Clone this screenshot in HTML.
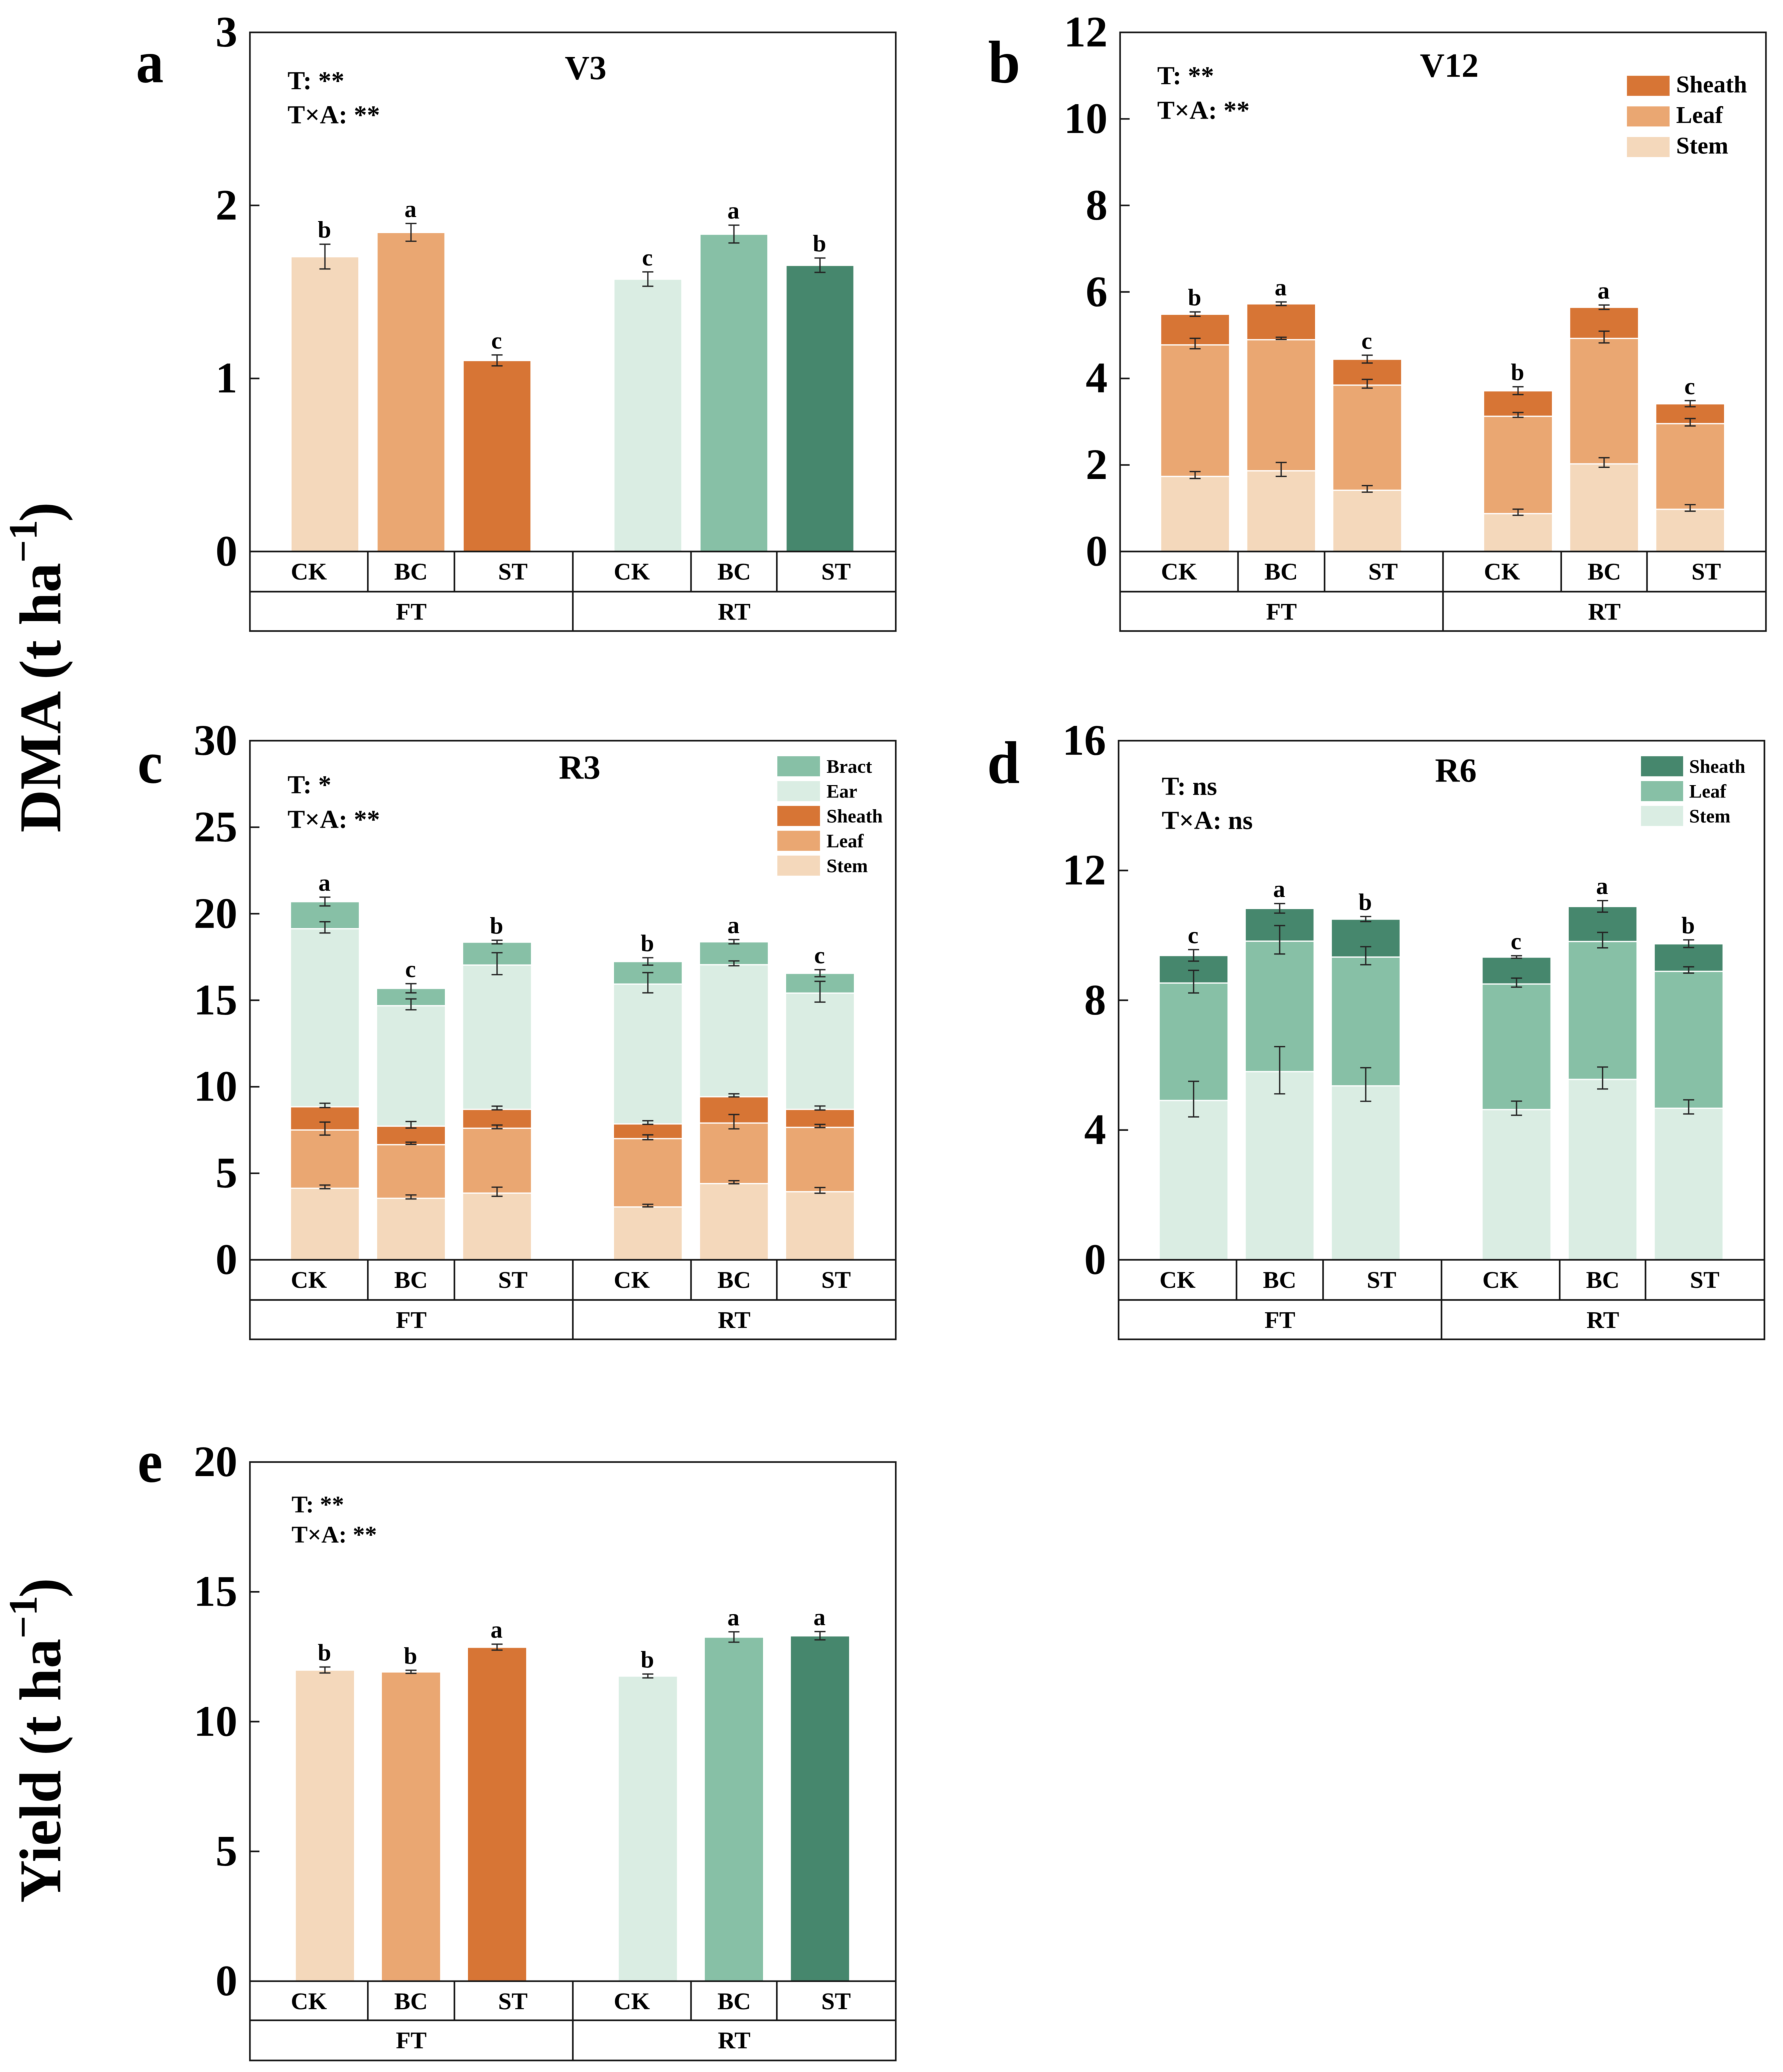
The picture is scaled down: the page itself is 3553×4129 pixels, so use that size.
<!DOCTYPE html>
<html lang="en">
<head>
<meta charset="utf-8">
<title>Dry matter accumulation and yield</title>
<style>
html,body{margin:0;padding:0;background:#fff;}
svg{display:block;filter:blur(0.7px);}
text{font-family:"Liberation Serif",serif;font-weight:bold;fill:#000;}
</style>
</head>
<body>
<svg id="figure" xmlns="http://www.w3.org/2000/svg" width="3553" height="4129" viewBox="0 0 3553 4129">
  <rect x="0" y="0" width="3553" height="4129" fill="#fff"/>

  <text transform="translate(120 1659) rotate(-90)" font-size="118">DMA (t ha<tspan font-size="80" dy="-47">−1</tspan><tspan dy="47" dx="-4">)</tspan></text>
  <text transform="translate(120 3792) rotate(-90)" font-size="118">Yield (t ha<tspan font-size="80" dy="-47">−1</tspan><tspan dy="47" dx="-4">)</tspan></text>

  <text x="271" y="164" font-size="120" textLength="55" lengthAdjust="spacingAndGlyphs">a</text>
  <text x="1969" y="164" font-size="120" textLength="64" lengthAdjust="spacingAndGlyphs">b</text>
  <text x="274" y="1560" font-size="120" textLength="50" lengthAdjust="spacingAndGlyphs">c</text>
  <text x="1967" y="1560" font-size="120" textLength="65" lengthAdjust="spacingAndGlyphs">d</text>
  <text x="274" y="2953" font-size="120" textLength="50" lengthAdjust="spacingAndGlyphs">e</text>

  <text x="1167" y="158" font-size="68" text-anchor="middle">V3</text>
  <text x="2888" y="153" font-size="68" text-anchor="middle">V12</text>
  <text x="1155" y="1552" font-size="68" text-anchor="middle">R3</text>
  <text x="2901" y="1558" font-size="68" text-anchor="middle">R6</text>

  <text x="573" y="178" font-size="52">T: **</text>
  <text x="573" y="246" font-size="52">T×A: **</text>
  <text x="2306" y="168" font-size="52">T: **</text>
  <text x="2306" y="237" font-size="52">T×A: **</text>
  <text x="573" y="1581" font-size="52">T: *</text>
  <text x="573" y="1650" font-size="52">T×A: **</text>
  <text x="2315" y="1584" font-size="52">T: ns</text>
  <text x="2315" y="1652" font-size="52">T×A: ns</text>
  <text x="581" y="3014" font-size="48">T: **</text>
  <text x="581" y="3074" font-size="48">T×A: **</text>
</svg>

<script>
// ---- shared labels ----
const categories = ['CK', 'BC', 'ST', 'CK', 'BC', 'ST'];
const groups = ['FT', 'RT'];

// ---- panel a (V3) ----
const aTicks = [0, 1, 2, 3];
const aValues = [1.70, 1.84, 1.10, 1.57, 1.83, 1.65];
const aErrors = [0.07, 0.05, 0.03, 0.04, 0.05, 0.04];
const aLetters = ['b', 'a', 'c', 'c', 'a', 'b'];

// ---- panel b (V12) ----
const bTicks = [0, 2, 4, 6, 8, 10, 12];
const bStem = [1.75, 1.88, 1.43, 0.89, 2.04, 0.99];
const bLeaf = [3.04, 3.03, 2.43, 2.25, 2.90, 1.98];
const bSheath = [0.68, 0.80, 0.57, 0.56, 0.69, 0.43];
const bStemErr = [0.075, 0.155, 0.07, 0.065, 0.105, 0.07];
const bLeafErr = [0.115, 0.02, 0.095, 0.05, 0.13, 0.08];
const bSheathErr = [0.045, 0.035, 0.085, 0.085, 0.045, 0.065];
const bLetters = ['b', 'a', 'c', 'b', 'a', 'c'];

// ---- panel c (R3) ----
const cTicks = [0, 5, 10, 15, 20, 25, 30];
const cStem = [4.17, 3.59, 3.89, 3.09, 4.44, 3.97];
const cLeaf = [3.37, 3.10, 3.75, 3.95, 3.50, 3.72];
const cSheath = [1.34, 1.07, 1.09, 0.85, 1.52, 1.04];
const cEar = [10.29, 6.96, 8.34, 8.08, 7.63, 6.72];
const cBract = [1.49, 0.93, 1.25, 1.23, 1.25, 1.07];
const cStemErr = [0.09, 0.10, 0.25, 0.06, 0.075, 0.15];
const cLeafErr = [0.36, 0.05, 0.09, 0.125, 0.40, 0.075];
const cSheathErr = [0.11, 0.175, 0.09, 0.09, 0.075, 0.10];
const cEarErr = [0.31, 0.30, 0.62, 0.57, 0.125, 0.585];
const cBractErr = [0.24, 0.25, 0.09, 0.20, 0.11, 0.19];
const cLetters = ['a', 'c', 'b', 'b', 'a', 'c'];

// ---- panel d (R6) ----
const dTicks = [0, 4, 8, 12, 16];
const dStem = [4.93, 5.82, 5.38, 4.65, 5.58, 4.69];
const dLeaf = [3.62, 4.02, 3.97, 3.87, 4.25, 4.22];
const dSheath = [0.81, 0.97, 1.13, 0.79, 1.04, 0.81];
const dStemErr = [0.54, 0.72, 0.51, 0.21, 0.33, 0.21];
const dLeafErr = [0.34, 0.43, 0.27, 0.13, 0.23, 0.09];
const dSheathErr = [0.17, 0.14, 0.07, 0.03, 0.17, 0.11];
const dLetters = ['c', 'a', 'b', 'c', 'a', 'b'];

// ---- panel e (yield) ----
const eTicks = [0, 5, 10, 15, 20];
const eValues = [11.96, 11.89, 12.84, 11.73, 13.23, 13.28];
const eErrors = [0.105, 0.05, 0.105, 0.065, 0.19, 0.15];
const eLetters = ['b', 'b', 'a', 'b', 'a', 'a'];

// ---- colours ----
const PALE_ORANGE = '#F4D8BB', ORANGE = '#EAA772', DARK_ORANGE = '#D77535';
const PALE_GREEN = '#DAEDE3', GREEN = '#87C0A6', DARK_GREEN = '#46876D';
const INK = '#141414';
const NS = 'http://www.w3.org/2000/svg';
const svg = document.getElementById('figure');

function make(tag, attrs, parent) {
  const node = document.createElementNS(NS, tag);
  for (const k in attrs) node.setAttribute(k, attrs[k]);
  parent.appendChild(node);
  return node;
}

function drawPanel(p) {
  const W = 1287, H = 1034.5;
  const ROW1 = p.rows[0], ROW2 = p.rows[1];
  const top = p.top, left = p.left, zero = top + H;
  const maxV = p.ticks[p.ticks.length - 1];
  const yScale = v => zero - (v / maxV) * H;
  const xScale = i => left + 149.5 + i * 171.5 + (i >= 3 ? 129 : 0);

  const g = make('g', {}, svg);
  
  

  // bars and error bars
  const n = categories.length;
  const cumulative = new Array(n).fill(0);
  p.series.forEach((s, si) => {
    const isTopSeries = si === p.series.length - 1;
    s.values.forEach((v, i) => {
      const base = cumulative[i];
      const topVal = base + v;
      cumulative[i] = topVal;
      const gap = isTopSeries ? 0 : 2.5;
      const color = Array.isArray(s.color) ? s.color[i] : s.color;
      const bar = make('rect', {
        x: xScale(i) - p.barW / 2,
        y: yScale(topVal) + gap,
        width: p.barW,
        height: Math.max(0, yScale(base) - yScale(topVal) - gap),
        fill: color
      }, g);
      
      
    });
  });

  const running = new Array(n).fill(0);
  const errTop = new Array(n).fill(0);
  p.series.forEach(s => {
    s.values.forEach((v, i) => {
      running[i] += v;
      const hi = yScale(running[i] + s.errors[i]) - 2;
      const lo = yScale(running[i] - s.errors[i]) - 1;
      errTop[i] = hi;
      const cx = xScale(i);
      const err = make('path', {
        d: 'M' + (cx - 11) + ' ' + hi + 'H' + (cx + 11) + 'M' + cx + ' ' + hi + 'V' + lo + 'M' + (cx - 11) + ' ' + lo + 'H' + (cx + 11),
        fill: 'none', stroke: '#222', 'stroke-width': 2.6
      }, g);
      
      
    });
  });

  // significance letters
  p.letters.forEach((t, i) => {
    const lab = make('text', {
      x: xScale(i) - 1, y: errTop[i] - 13, 'font-size': 48, 'text-anchor': 'middle'
    }, g);
    lab.textContent = t;
    
    
  });

  // frame and table below the axis
  const lines = make('path', {
    d: 'M' + left + ' ' + top + 'H' + (left + W) + 'V' + (zero + ROW1 + ROW2) + 'H' + left + 'Z' +
       'M' + left + ' ' + zero + 'H' + (left + W) +
       'M' + left + ' ' + (zero + ROW1) + 'H' + (left + W) +
       'M' + (left + 235) + ' ' + zero + 'V' + (zero + ROW1) +
       'M' + (left + 407.5) + ' ' + zero + 'V' + (zero + ROW1) +
       'M' + (left + 879) + ' ' + zero + 'V' + (zero + ROW1) +
       'M' + (left + 1050) + ' ' + zero + 'V' + (zero + ROW1) +
       'M' + (left + 643.5) + ' ' + zero + 'V' + (zero + ROW1 + ROW2),
    fill: 'none', stroke: INK, 'stroke-width': 3.2
  }, g);
  
  

  // y axis ticks
  p.ticks.forEach(t => {
    const y = yScale(t);
    if (t !== 0 && t !== maxV) {
      const mark = make('line', {
        x1: left, x2: left + 19, y1: y, y2: y, stroke: INK, 'stroke-width': 3.2
      }, g);
      
      
    }
    const lab = make('text', {
      x: left - 25, y: y + 28, 'font-size': 87, 'text-anchor': 'end'
    }, g);
    lab.textContent = String(t);
    
    
  });

  // category labels
  const cellCentres = [117.5, 321, 524, 761, 965, 1168];
  categories.forEach((c, i) => {
    const lab = make('text', {
      x: left + cellCentres[i], y: zero + 56, 'font-size': 48, 'text-anchor': 'middle'
    }, g);
    lab.textContent = c;
    
    
  });
  groups.forEach((c, i) => {
    const lab = make('text', {
      x: left + 321.5 + i * 643.5, y: zero + ROW1 + 56, 'font-size': 48, 'text-anchor': 'middle'
    }, g);
    lab.textContent = c;
    
    
  });

  // legend
  if (p.legend) {
    const L = p.legend;
    L.items.forEach((item, i) => {
      const sy = L.y + i * L.step;
      const sw = make('rect', { x: L.x, y: sy, width: L.w, height: L.h, fill: item.color }, g);
      
      
      const lab = make('text', {
        x: L.x + L.w + L.gap, y: sy + L.h - L.drop, 'font-size': L.size
      }, g);
      lab.textContent = item.label;
      
      
    });
  }
}

const SIX = [PALE_ORANGE, ORANGE, DARK_ORANGE, PALE_GREEN, GREEN, DARK_GREEN];

drawPanel({
  id: 'a', left: 498, top: 64.5, rows: [80, 78.5], barW: 133, ticks: aTicks, letters: aLetters,
  series: [{ name: 'dma', values: aValues, errors: aErrors, color: SIX }]
});

drawPanel({
  id: 'b', left: 2232, top: 64.5, rows: [80, 78.5], barW: 135, ticks: bTicks, letters: bLetters,
  series: [
    { name: 'stem', values: bStem, errors: bStemErr, color: PALE_ORANGE },
    { name: 'leaf', values: bLeaf, errors: bLeafErr, color: ORANGE },
    { name: 'sheath', values: bSheath, errors: bSheathErr, color: DARK_ORANGE }
  ],
  legend: {
    x: 3242, y: 151, w: 85, h: 40, step: 61, gap: 13, size: 48, drop: 7,
    items: [
      { label: 'Sheath', color: DARK_ORANGE },
      { label: 'Leaf', color: ORANGE },
      { label: 'Stem', color: PALE_ORANGE }
    ]
  }
});

drawPanel({
  id: 'c', left: 498, top: 1476, rows: [80, 78.5], barW: 135, ticks: cTicks, letters: cLetters,
  series: [
    { name: 'stem', values: cStem, errors: cStemErr, color: PALE_ORANGE },
    { name: 'leaf', values: cLeaf, errors: cLeafErr, color: ORANGE },
    { name: 'sheath', values: cSheath, errors: cSheathErr, color: DARK_ORANGE },
    { name: 'ear', values: cEar, errors: cEarErr, color: PALE_GREEN },
    { name: 'bract', values: cBract, errors: cBractErr, color: GREEN }
  ],
  legend: {
    x: 1549, y: 1507, w: 85, h: 40, step: 49.5, gap: 13, size: 38, drop: 7,
    items: [
      { label: 'Bract', color: GREEN },
      { label: 'Ear', color: PALE_GREEN },
      { label: 'Sheath', color: DARK_ORANGE },
      { label: 'Leaf', color: ORANGE },
      { label: 'Stem', color: PALE_ORANGE }
    ]
  }
});

drawPanel({
  id: 'd', left: 2229, top: 1476, rows: [80, 78.5], barW: 135, ticks: dTicks, letters: dLetters,
  series: [
    { name: 'stem', values: dStem, errors: dStemErr, color: PALE_GREEN },
    { name: 'leaf', values: dLeaf, errors: dLeafErr, color: GREEN },
    { name: 'sheath', values: dSheath, errors: dSheathErr, color: DARK_GREEN }
  ],
  legend: {
    x: 3270, y: 1507, w: 84, h: 40, step: 49.5, gap: 12, size: 38, drop: 7,
    items: [
      { label: 'Sheath', color: DARK_GREEN },
      { label: 'Leaf', color: GREEN },
      { label: 'Stem', color: PALE_GREEN }
    ]
  }
});

drawPanel({
  id: 'e', left: 498, top: 2913.5, rows: [78, 80], barW: 116, ticks: eTicks, letters: eLetters,
  series: [{ name: 'yield', values: eValues, errors: eErrors, color: SIX }]
});
</script>
</body>
</html>
